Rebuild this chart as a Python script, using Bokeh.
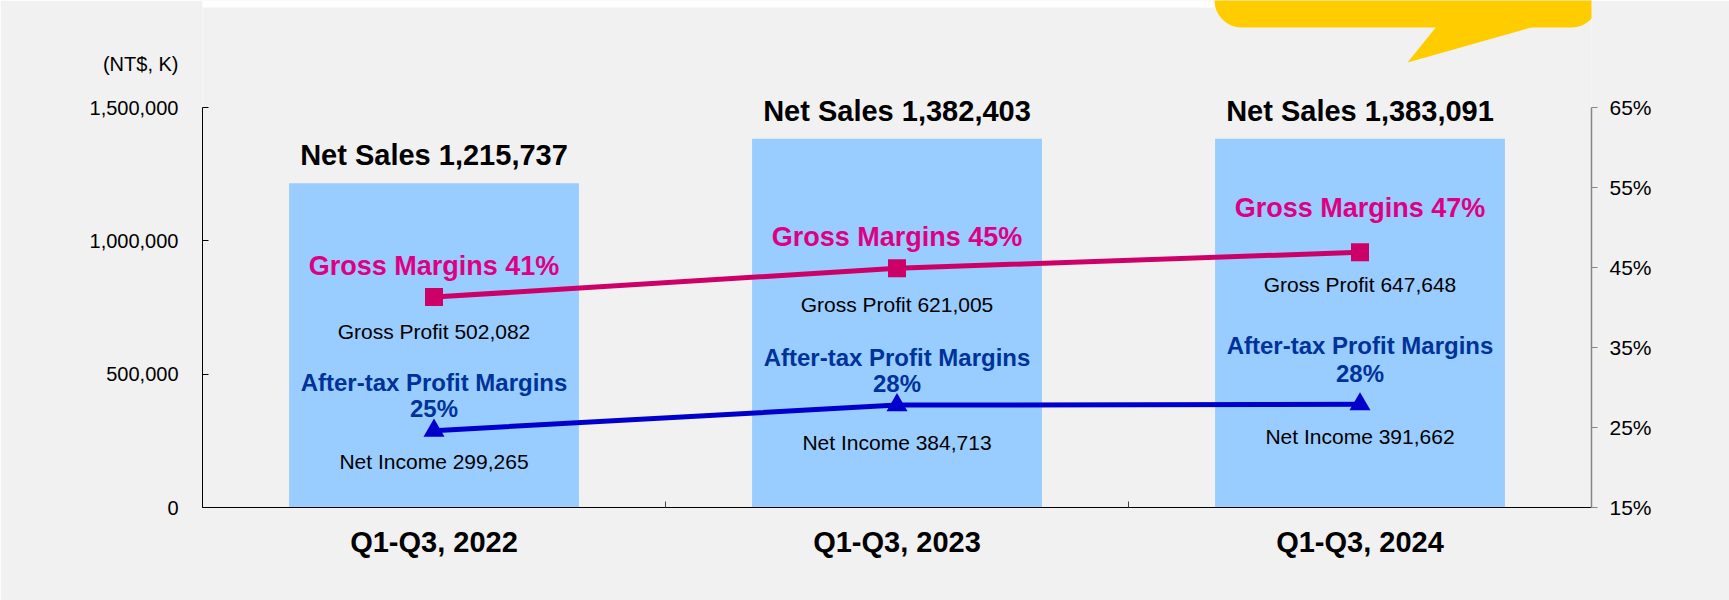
from bokeh.plotting import figure
from bokeh.models import (Range1d, LinearAxis, FixedTicker, NumeralTickFormatter,
                          PrintfTickFormatter, ColumnDataSource, BoxAnnotation,
                          PolyAnnotation, CustomJSTickFormatter)
from bokeh.core.properties import value
from bokeh.embed import file_html
from bokeh.resources import INLINE
import numpy as np

# ---------------- data ----------------
categories = ["Q1-Q3, 2022", "Q1-Q3, 2023", "Q1-Q3, 2024"]
net_sales = [1215737, 1382403, 1383091]
gross_profit = [502082, 621005, 647648]
net_income = [299265, 384713, 391662]
gross_margin_pct = [41.3, 44.9, 46.9]
aftertax_margin_pct = [24.6, 27.8, 27.9]
gross_margin_labels = ["41%", "45%", "47%"]
aftertax_margin_labels = ["25%", "28%", "28%"]
left_ticks = [0, 500000, 1000000, 1500000]
right_ticks = [15, 25, 35, 45, 55, 65]
unit_label = "(NT$, K)"

# ---------------- styles / layout ----------------
FONT = value("Liberation Sans")
BG = "#F1F1F1"
BAR = "#99CCFF"
GM_LINE = "#CC0066"
GM_TEXT = "#DE0084"
AT_LINE = "#0000CC"
AT_TEXT = "#003399"

W, H = 1729, 600
BORDER_L, BORDER_R, BORDER_B = 202, 138, 93
AXIS_TOP_PX = 107          # canvas y of the top tick
UNIT_LABEL_PX = 63         # canvas y of the "(NT$, K)" text

# per-label pixel offsets (screen px, positive = down)
off_sales = [-28, -28, -28]
off_gm = [-31, -31, -44]
off_gp = [34, 36, 32]
off_at1 = [-48, -48, -59]
off_at2 = [-22, -22, -31]
off_ni = [31, 37, 32]

n = len(categories)
xc = np.arange(n) + 0.5

frame_h = H - BORDER_B
left_lo, left_hi = left_ticks[0], left_ticks[-1]
right_lo, right_hi = right_ticks[0], right_ticks[-1]
y_top = left_hi * frame_h / (frame_h - AXIS_TOP_PX)
pct_top = right_lo + (right_hi - right_lo) * (y_top - left_lo) / (left_hi - left_lo)
y_unit = round(y_top * (frame_h - UNIT_LABEL_PX) / frame_h)

p = figure(width=W, height=H, output_backend="svg", toolbar_location=None,
           x_range=Range1d(0, n), y_range=Range1d(left_lo, y_top),
           min_border_left=BORDER_L, min_border_right=BORDER_R, min_border_top=0,
           min_border_bottom=BORDER_B, background_fill_color=BG, border_fill_color=BG,
           outline_line_color=None)
p.extra_y_ranges = {"pct": Range1d(right_lo, pct_top)}
p.grid.visible = False

# bottom axis: category labels at centres, boundary marks as minor ticks
xa = p.xaxis[0]
xa.ticker = FixedTicker(ticks=list(xc), minor_ticks=list(range(1, n)))
xa.major_label_overrides = {float(x): c for x, c in zip(xc, categories)}
xa.major_tick_line_color = None
xa.minor_tick_in = 6
xa.minor_tick_out = 0
xa.minor_tick_line_color = "#444444"
xa.axis_line_color = "black"
xa.major_label_text_font = "Liberation Sans"
xa.major_label_text_font_size = "29px"
xa.major_label_text_font_style = "bold"
xa.major_label_text_color = "black"
xa.major_label_standoff = 12

# inner left axis: line + inward ticks only
ya = p.yaxis[0]
ya.ticker = FixedTicker(ticks=left_ticks, minor_ticks=[])
ya.formatter = CustomJSTickFormatter(code="return ''")
ya.bounds = (left_lo, left_hi)
ya.major_tick_in = 6
ya.major_tick_out = 0
ya.major_tick_line_color = "black"
ya.axis_line_color = "black"
ya.major_label_standoff = 0
ya.major_label_text_font_size = "1px"

# outer left axis: tick labels and the unit label
ya2 = LinearAxis(ticker=FixedTicker(ticks=left_ticks + [y_unit], minor_ticks=[]),
                 formatter=NumeralTickFormatter(format="0,0"))
ya2.major_label_overrides = {y_unit: unit_label}
ya2.axis_line_color = None
ya2.major_tick_line_color = None
ya2.major_tick_in = 0
ya2.major_tick_out = 0
ya2.major_label_text_font = "Liberation Sans"
ya2.major_label_text_font_size = "20px"
ya2.major_label_text_color = "black"
ya2.major_label_standoff = 24
p.add_layout(ya2, "left")

ra = LinearAxis(y_range_name="pct", ticker=FixedTicker(ticks=right_ticks, minor_ticks=[]),
                formatter=PrintfTickFormatter(format="%d%%"), bounds=(right_lo, right_hi))
ra.major_tick_in = 0
ra.major_tick_out = 6
ra.major_tick_line_color = "#868686"
ra.axis_line_color = "#868686"
ra.axis_line_width = 1.5
ra.major_label_text_font = "Liberation Sans"
ra.major_label_text_font_size = "21px"
ra.major_label_text_color = "black"
ra.major_label_standoff = 12
p.add_layout(ra, "right")

# bars
src = ColumnDataSource(dict(x=xc, sales=net_sales, gm=gross_margin_pct, at=aftertax_margin_pct))
p.vbar(x="x", top="sales", width=0.626, bottom=0, source=src, fill_color=BAR, line_color=None)

# lines
p.line(x="x", y="gm", source=src, y_range_name="pct", line_color=GM_LINE, line_width=5)
p.scatter(x="x", y="gm", source=src, y_range_name="pct", marker="square", size=18,
          fill_color=GM_LINE, line_color=None)
p.line(x="x", y="at", source=src, y_range_name="pct", line_color=AT_LINE, line_width=5)
p.scatter(x="x", y="at", source=src, y_range_name="pct", marker="triangle", size=21,
          fill_color=AT_LINE, line_color=None)


def add_text(texts, ys, offs, color, size, bold, rng="default"):
    s = ColumnDataSource(dict(x=xc, y=ys, text=texts, off=offs))
    p.text(x="x", y="y", text="text", y_offset="off", source=s, y_range_name=rng,
           text_align="center", text_baseline="middle", text_font=FONT,
           text_font_size=value(size), text_font_style="bold" if bold else "normal",
           text_color=color)


add_text(["Net Sales " + f"{v:,}" for v in net_sales], net_sales, off_sales, "black", "29px", True)
add_text(["Gross Margins " + s for s in gross_margin_labels], gross_margin_pct, off_gm,
         GM_TEXT, "27px", True, "pct")
add_text(["Gross Profit " + f"{v:,}" for v in gross_profit], gross_margin_pct, off_gp,
         "black", "21px", False, "pct")
add_text(["After-tax Profit Margins"] * n, aftertax_margin_pct, off_at1, AT_TEXT, "24px", True, "pct")
add_text(aftertax_margin_labels, aftertax_margin_pct, off_at2, AT_TEXT, "24px", True, "pct")
add_text(["Net Income " + f"{v:,}" for v in net_income], aftertax_margin_pct, off_ni,
         "black", "21px", False, "pct")

# page decorations: white top band and yellow callout
p.add_layout(BoxAnnotation(left=0, right=W, top=0, bottom=7,
                           left_units="canvas", right_units="canvas",
                           top_units="canvas", bottom_units="canvas",
                           fill_color="white", fill_alpha=1, line_color=None, level="overlay"))
p.add_layout(BoxAnnotation(left=1214, right=1598, top=-40, bottom=27,
                           left_units="canvas", right_units="canvas",
                           top_units="canvas", bottom_units="canvas",
                           fill_color="#FFCC00", fill_alpha=1, line_color=None,
                           border_radius=27, level="overlay"))
p.add_layout(PolyAnnotation(xs=[1436, 1534, 1407], ys=[26, 26, 62],
                            xs_units="canvas", ys_units="canvas",
                            fill_color="#FFCC00", fill_alpha=1, line_color=None,
                            level="overlay"))

open("out.html", "w").write(file_html(p, INLINE))
